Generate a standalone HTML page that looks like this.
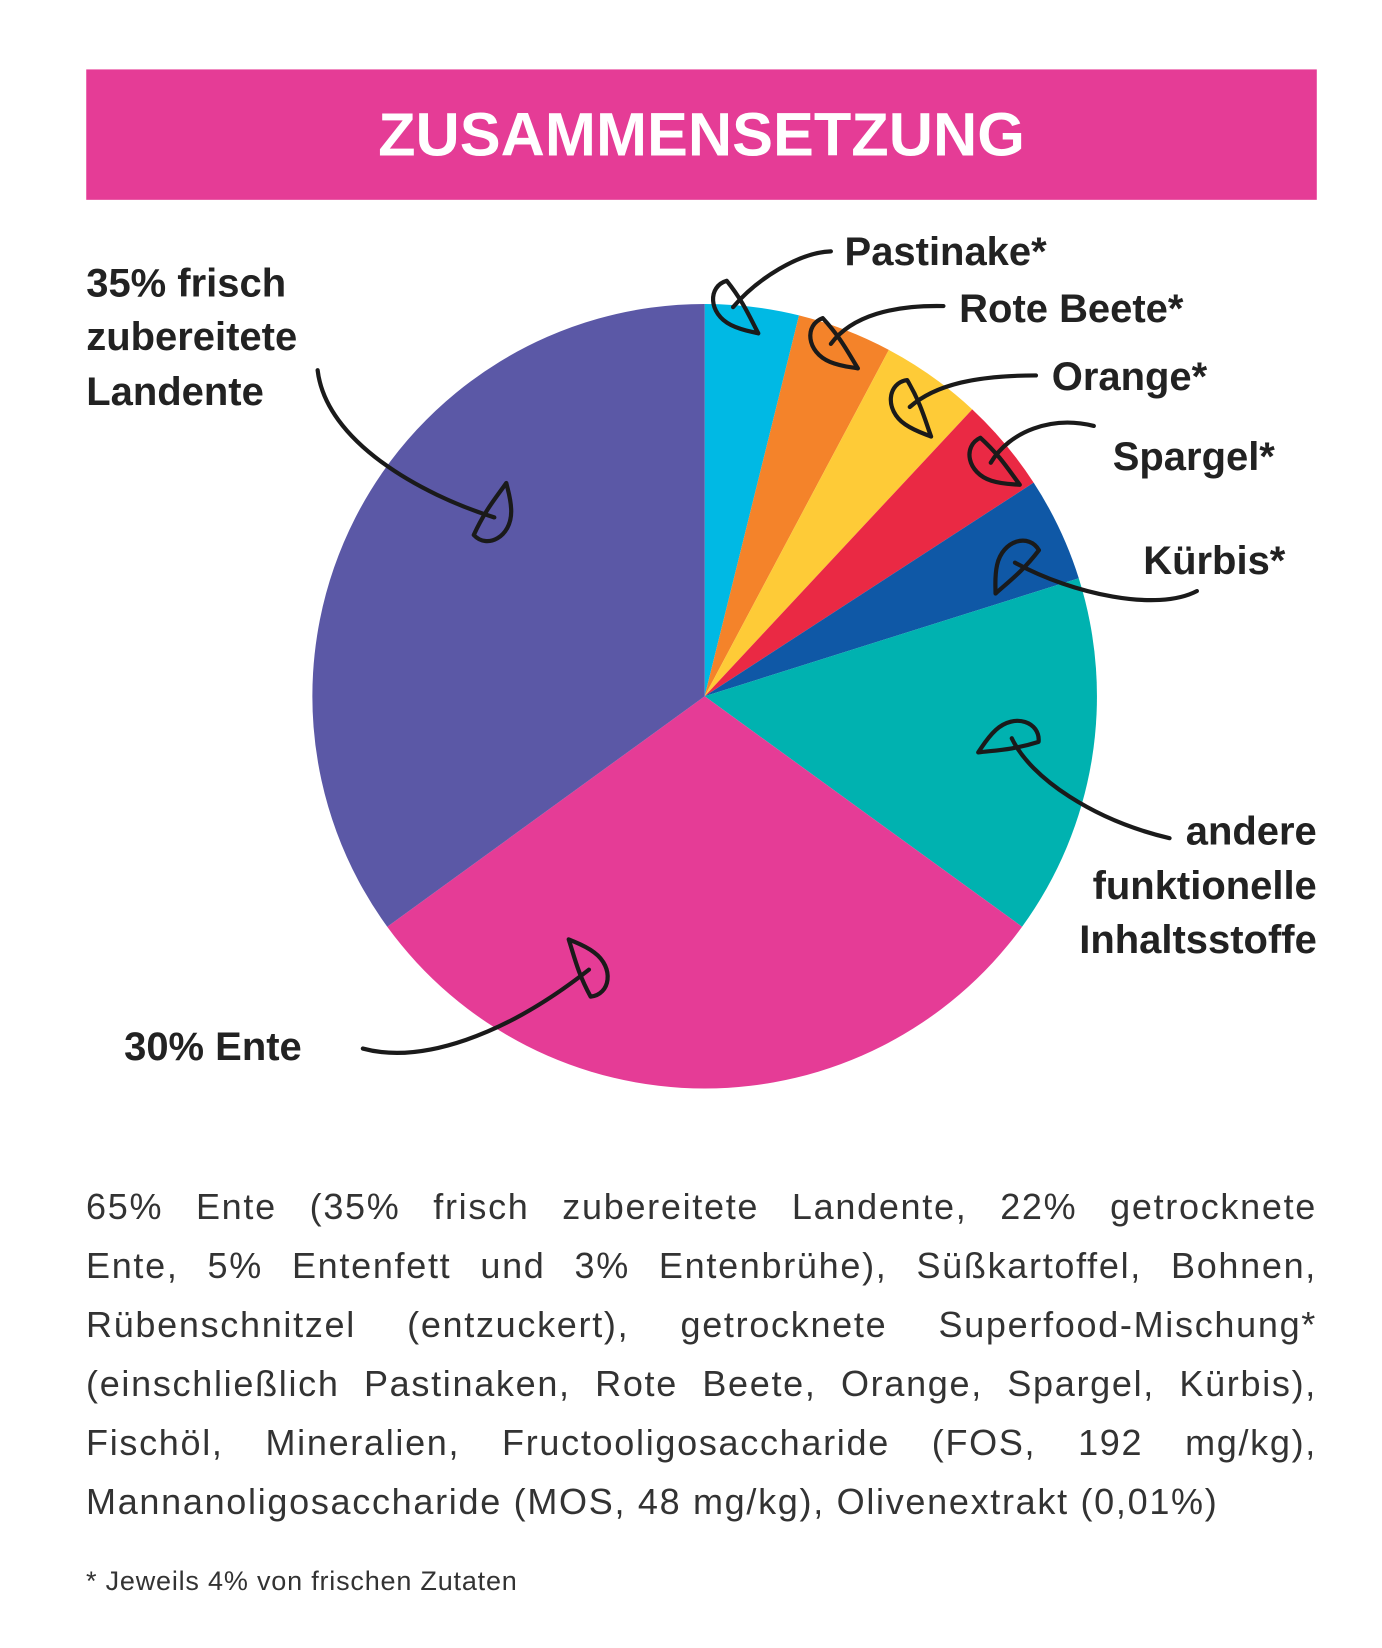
<!DOCTYPE html>
<html><head><meta charset="utf-8"><style>
html,body{margin:0;padding:0;background:#fff;}
body{width:1382px;height:1648px;position:relative;overflow:hidden;font-family:"Liberation Sans",sans-serif;}
svg{position:absolute;left:0;top:0;}
.p{position:absolute;left:86px;width:1231px;font-size:36px;color:#333;line-height:58.9px;letter-spacing:1.7px;}
.p div{ text-align:justify; text-align-last:justify;}
.p div.last{text-align-last:left;}
.fn{position:absolute;left:86px;top:1566px;font-size:27px;color:#333;letter-spacing:0.8px;}
</style></head><body>
<svg width="1382" height="1648" viewBox="0 0 1314 1567" preserveAspectRatio="none">
<defs>
<path id="hd" d="M-6,-25 C-24,-20 -24,6 -2,17 C8,22 16,23 24,25 C16,10 10,-5 -6,-25 Z"/>
</defs>
<rect x="82" y="66" width="1170" height="124" fill="#e53c96"/>
<text x="667" y="148" text-anchor="middle" font-family="Liberation Sans" font-weight="bold" font-size="58" fill="#fff" textLength="615" lengthAdjust="spacingAndGlyphs">ZUSAMMENSETZUNG</text>
<g transform="translate(670,662)">
<path d="M0,0 L0,-373 A373,373 0 0 1 89.7,-362.1 Z" fill="#00b9e4"/>
<path d="M0,0 L89.7,-362.1 A373,373 0 0 1 175.1,-329.3 Z" fill="#f4832a"/>
<path d="M0,0 L175.1,-329.3 A373,373 0 0 1 254.4,-272.8 Z" fill="#fecb37"/>
<path d="M0,0 L254.4,-272.8 A373,373 0 0 1 312.8,-203.1 Z" fill="#ea2944"/>
<path d="M0,0 L312.8,-203.1 A373,373 0 0 1 355.7,-112.2 Z" fill="#0f58a6"/>
<path d="M0,0 L355.7,-112.2 A373,373 0 0 1 301.8,219.2 Z" fill="#00b2b0"/>
<path d="M0,0 L301.8,219.2 A373,373 0 0 1 -301.8,219.2 Z" fill="#e53c96"/>
<path d="M0,0 L-301.8,219.2 A373,373 0 0 1 0,-373 Z" fill="#5b58a6"/>
</g>
<g fill="none" stroke="#1a1a1a" stroke-width="4" stroke-linecap="round" stroke-linejoin="round">
<path d="M302,352 C310,420 400,470 470,492"/>
<path d="M345,997 C400,1012 480,985 560,922"/>
<path d="M1112,797 C1040,780 980,740 962,702"/>
<path d="M1138,562 C1100,582 1020,565 965,535"/>
<path d="M1040,405 C1000,395 960,410 942,440"/>
<path d="M985,357 C930,357 890,365 865,387"/>
<path d="M897,291 C850,290 810,300 790,327"/>
<path d="M790,239 C760,240 720,265 697,292"/>
<use href="#hd" transform="translate(470,492) rotate(-117)"/>
<use href="#hd" transform="translate(560,922) rotate(-170)"/>
<use href="#hd" transform="translate(962,702) rotate(111)"/>
<use href="#hd" transform="translate(965,535) rotate(76)"/>
<use href="#hd" transform="translate(942,440) rotate(-9)"/>
<use href="#hd" transform="translate(865,387) rotate(8)"/>
<use href="#hd" transform="translate(790,327) rotate(-4)"/>
<use href="#hd" transform="translate(697,292) rotate(0)"/>
</g>
<g font-family="Liberation Sans" font-weight="bold" font-size="38" fill="#222">
<text x="82" y="282">35% frisch</text>
<text x="82" y="333">zubereitete</text>
<text x="82" y="385">Landente</text>
<text x="803" y="252">Pastinake*</text>
<text x="912" y="306">Rote Beete*</text>
<text x="1000" y="371">Orange*</text>
<text x="1058" y="447">Spargel*</text>
<text x="1087" y="546">Kürbis*</text>
<text x="1252" y="803" text-anchor="end">andere</text>
<text x="1252" y="855" text-anchor="end">funktionelle</text>
<text x="1252" y="906" text-anchor="end">Inhaltsstoffe</text>
<text x="118" y="1008">30% Ente</text>
</g>
</svg>
<div class="p" style="top:1178px;">
<div>65% Ente (35% frisch zubereitete Landente, 22% getrocknete</div>
<div>Ente, 5% Entenfett und 3% Entenbrühe), Süßkartoffel, Bohnen,</div>
<div>Rübenschnitzel (entzuckert), getrocknete Superfood-Mischung*</div>
<div>(einschließlich Pastinaken, Rote Beete, Orange, Spargel, Kürbis),</div>
<div>Fischöl, Mineralien, Fructooligosaccharide (FOS, 192 mg/kg),</div>
<div class="last">Mannanoligosaccharide (MOS, 48 mg/kg), Olivenextrakt (0,01%)</div>
</div>
<div class="fn">* Jeweils 4% von frischen Zutaten</div>
</body></html>
